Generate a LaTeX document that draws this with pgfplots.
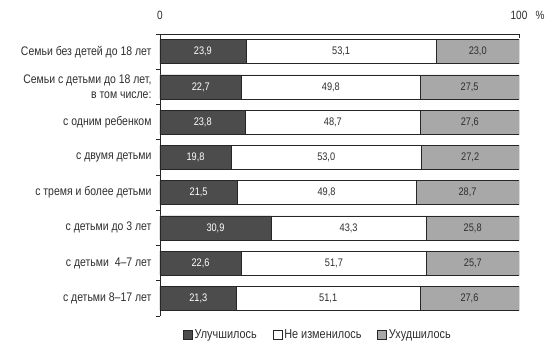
\documentclass[border=0pt]{standalone}
\usepackage{pgfplots}
\pgfplotsset{compat=1.18}
\usepackage{pgfplotstable}
\usepackage{fontspec}
\setmainfont[FakeStretch=0.84]{Liberation Sans}
\definecolor{darkbar}{HTML}{4C4C4C}
\definecolor{lightbar}{HTML}{A8A8A8}
\definecolor{txt}{HTML}{2E2E2E}
\pgfplotstableread{
y a b c
1 23.9 53.1 23.0
2 22.7 49.8 27.5
3 23.8 48.7 27.6
4 19.8 53.0 27.2
5 21.5 49.8 28.7
6 30.9 43.3 25.8
7 22.6 51.7 25.7
8 21.3 51.1 27.6
}\datatable
\begin{document}
\begin{tikzpicture}
\path[use as bounding box] (-160bp,-36bp) rectangle (390bp,316bp);
\begin{axis}[
  name=main,
  at={(0,0)}, anchor=south west,
  scale only axis, width=359bp, height=282bp,
  bar width=24bp,
  xmin=0, xmax=100, ymin=0.5, ymax=8.5, y dir=reverse,
  axis x line*=top, axis y line*=left,
  axis line style={black!85, line width=0.6pt},
  xtick={0,100},
  ytick={1,...,8},
  yticklabels={Семьи без детей до 18 лет,{Семьи с детьми до 18 лет,\\в том числе:},с одним ребенком,с двумя детьми,с тремя и более детьми,с детьми до 3 лет,с детьми\ \ 4–7 лет,с детьми 8–17 лет},
  major tick length=0pt,
  minor tick length=4bp,
  minor xtick={100},
  minor ytick={0.5,1.5,...,8.5},
  xtick align=inside, ytick align=outside,
  tick style={black!85, line width=0.6pt},
  /pgf/number format/assume math mode=true,
  xticklabel style={font=\fontsize{12}{13}\selectfont, text=txt, yshift=11bp},
  yticklabel style={font=\fontsize{12.5}{14.5}\selectfont, text=txt, align=right, xshift=-5bp},
  legend style={at={(0.44,-0.068)}, anchor=center, draw=none, fill=none, legend columns=3,
    font=\fontsize{13}{14}\selectfont, text=txt,
    /tikz/every even column/.append style={column sep=14bp}},
  legend image code/.code={\draw[#1, line width=0.5pt] (0bp,-4.5bp) rectangle (9bp,4.5bp);},
  reverse legend,
  lbl/.style={only marks, mark=none, forget plot, nodes near coords,
    nodes near coords={\pgfmathprintnumber[fixed, fixed zerofill, precision=1, use comma]{\pgfplotspointmeta}},
    every node near coord/.append style={font=\fontsize{11}{12}\selectfont, anchor=center, inner sep=0pt}},
]
% bars drawn as cumulative overlapping segments (light to 100, white to a+b, dark to a)
\addplot[xbar, fill=lightbar, draw=black!85, line width=0.5pt]
  table[x expr=\thisrow{a}+\thisrow{b}+\thisrow{c}, y=y] {\datatable};
\addplot[xbar, fill=white, draw=black!85, line width=0.5pt]
  table[x expr=\thisrow{a}+\thisrow{b}, y=y] {\datatable};
\addplot[xbar, fill=darkbar, draw=black!85, line width=0.5pt]
  table[x=a, y=y] {\datatable};
\legend{Ухудшилось,Не изменилось,Улучшилось}
% value labels at segment centres
\addplot[lbl, point meta=\thisrow{a}, every node near coord/.append style={text=white}]
  table[x expr=\thisrow{a}/2, y=y] {\datatable};
\addplot[lbl, point meta=\thisrow{b}, every node near coord/.append style={text=txt}]
  table[x expr=\thisrow{a}+\thisrow{b}/2, y=y] {\datatable};
\addplot[lbl, point meta=\thisrow{c}, every node near coord/.append style={text=txt}]
  table[x expr=\thisrow{a}+\thisrow{b}+\thisrow{c}/2, y=y] {\datatable};
\end{axis}
\node[font=\fontsize{12}{13}\selectfont, text=txt] at ([xshift=21bp, yshift=19bp]main.north east) {\%};
\end{tikzpicture}
\end{document}
